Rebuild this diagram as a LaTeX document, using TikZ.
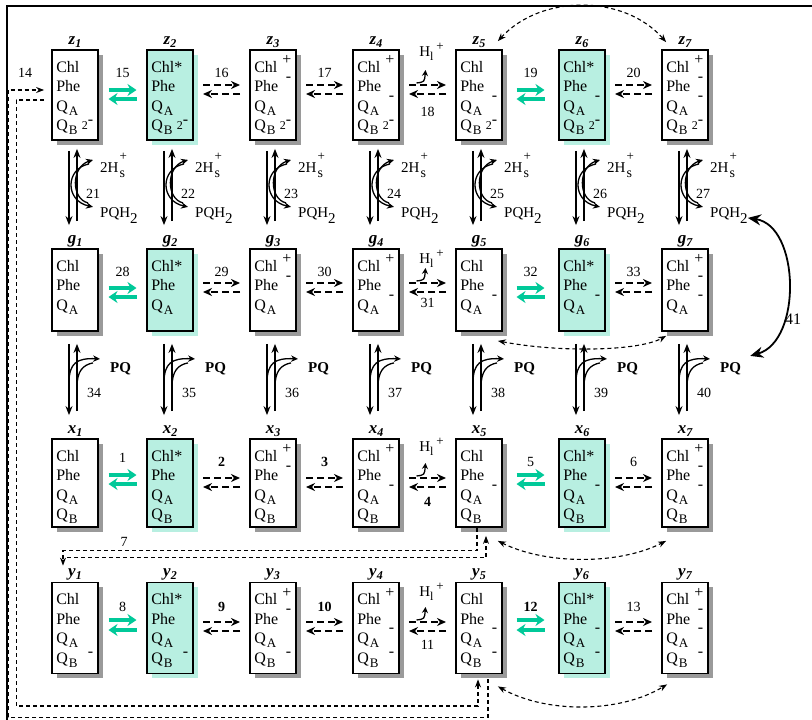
\documentclass[tikz,border=0pt]{standalone}
\usepackage{fontspec}
\setmainfont{Liberation Serif}
\usepackage{tikz}
\usetikzlibrary{arrows.meta,calc,shadows}
\definecolor{cExc}{HTML}{00C999}
\definecolor{cExcFill}{HTML}{B8EFE1}
\definecolor{cShade}{HTML}{9A9A9A}
\tikzset{
  pbox/.style={draw, line width=1.8pt, minimum width=46pt, inner sep=0pt},
  ground/.style={pbox, fill=white,
                 drop shadow={shadow xshift=4.5pt, shadow yshift=-4.5pt, opacity=1, fill=cShade}},
  excited/.style={pbox, fill=cExcFill,
                 drop shadow={shadow xshift=4.5pt, shadow yshift=-4.5pt, opacity=1, fill=cExcFill}},
  rowz/.style={minimum height=90pt},
  rowg/.style={minimum height=82pt},
  rowx/.style={minimum height=88pt},
  rowy/.style={minimum height=91pt},
  boxtxt/.style={anchor=north west, inner sep=0pt, text width=37pt, align=left,
                 font=\fontsize{16}{19.5}\selectfont},
  boxlbl/.style={anchor=base, inner sep=0pt, font=\fontsize{17}{17}\selectfont\bfseries\itshape},
  num/.style={inner sep=0pt, font=\fontsize{14}{14}\selectfont},
  numb/.style={num, font=\fontsize{14}{14}\selectfont\bfseries},
  chem/.style={anchor=base west, inner sep=0pt, font=\fontsize{15}{15}\selectfont},
  eqar/.style={-{Stealth[length=9pt,width=12pt]}, line width=3.5pt, cExc},
  dar/.style={-{Stealth[length=9pt,width=8pt]}, line width=2pt, dash pattern=on 7pt off 4pt},
  var/.style={-{Stealth[length=9pt,width=7pt]}, line width=1.4pt},
  car/.style={-{Stealth[length=7pt,width=6.5pt]}, line width=1.3pt},
  loopd/.style={line width=1.1pt, dash pattern=on 4pt off 3pt},
  ltip/.style={-{Stealth[length=8pt,width=6pt]}},
  bigar/.style={{Stealth[length=13pt,width=11pt]}-{Stealth[length=13pt,width=11pt]}, line width=1.8pt},
}
\newcommand{\QA}{Q\kern1pt\raisebox{-4pt}{\fontsize{13}{13}\selectfont A}}
\newcommand{\QB}{Q\kern1pt\raisebox{-4pt}{\fontsize{13}{13}\selectfont B}}
\newcommand{\cpos}{\hfill\smash{\raisebox{7.5pt}{+}}}
\newcommand{\cneg}[1]{\hfill\smash{\raisebox{#1}{-}}}
\newcommand{\qbtwo}{\hfill\raisebox{1pt}{\fontsize{12}{12}\selectfont 2}\smash{\raisebox{6pt}{-}}}
\newcommand{\sub}[2]{#1\raisebox{-3pt}{\fontsize{12}{12}\selectfont #2}}
\newcommand{\Hs}{2H\kern1pt\rlap{\raisebox{-5pt}{\fontsize{14}{14}\selectfont s}}\raisebox{12pt}{\fontsize{13}{13}\selectfont +}}
\newcommand{\Hl}{H\raisebox{-4pt}{\fontsize{12}{12}\selectfont l}\kern3pt\raisebox{6.5pt}{\fontsize{13}{13}\selectfont +}}
\newcommand{\PQH}{PQH\raisebox{-6pt}{2}}

% box with its text and its name above
\newcommand{\pstate}[6]{%
  \node[#2, #3] (#1) at (#4) {};
  \node[boxtxt] (#1t) at ([shift={(5,12)}]#1.north west) {#6};
  \node[boxlbl] (#1l) at ([shift={(0,-5)}]#1.north) {#5};
}
% light step: two teal arrows
\newcommand{\lightpair}[7]{%
  \draw[eqar] ($(#1.east)!.5!(#2.west)+(-14,#3)$) -- ($(#1.east)!.5!(#2.west)+(14,#3)$);
  \draw[eqar] ($(#1.east)!.5!(#2.west)+(14,#4)$) -- ($(#1.east)!.5!(#2.west)+(-14,#4)$);
  \node[#7] (n#5) at ($(#1.east)!.5!(#2.west)+(0,#6)$) {#5};
}
% dark step: two dashed arrows
\newcommand{\darkpair}[7]{%
  \draw[dar] ($(#1.east)!.5!(#2.west)+(-18.5,#3)$) -- ($(#1.east)!.5!(#2.west)+(18.5,#3)$);
  \draw[dar] ($(#1.east)!.5!(#2.west)+(18.5,#4)$) -- ($(#1.east)!.5!(#2.west)+(-18.5,#4)$);
  \node[#7] (n#5) at ($(#1.east)!.5!(#2.west)+(0,#6)$) {#5};
}
% proton on the Chl+ reduction
\newcommand{\hlpart}[5]{%
  \node[chem, anchor=center] (hl#5) at ($(#1.east)!.5!(#2.west)+(4,#4)$) {\Hl};
  \draw[car, -{Stealth[length=6pt,width=6pt]}] ($(#1.east)!.5!(#2.west)+(-11,#3-2)$)
    .. controls ($(#1.east)!.5!(#2.west)+(-3,#3-3)$) .. ($(#1.east)!.5!(#2.west)+(-2,#3-15)$);
}
% Q_B site: 2H_s^+ in, PQH_2 out
\newcommand{\qblink}[3]{%
  \draw[var] ([shift={(-6,10)}]#1.south) -- ([shift={(-6,-23)}]#2.north);
  \draw[var] ([shift={(2,-27)}]#2.north) -- ([shift={(2,8)}]#1.south);
  \node[chem] (h#3) at ([shift={(25,32)}]#1.south) {\Hs};
  \node[chem] (q#3) at ([shift={(25,77)}]#1.south) {\PQH};
  \node[num] (n#3) at ([shift={(18,53)}]#1.south) {#3};
  \draw[car] ([shift={(-11,-9)}]h#3.base west) .. controls ([shift={(-35,-4)}]h#3.base west)
    and ([shift={(-35,-17)}]q#3.base west) .. ([shift={(-7,-11)}]q#3.base west);
  \draw[car] ([shift={(-12,-15)}]q#3.base west) .. controls ([shift={(-29,-19)}]q#3.base west)
    and ([shift={(-29,-6)}]h#3.base west) .. ([shift={(-7,-13)}]h#3.base west);
}
% Q_B site: PQ binding
\newcommand{\pqlink}[3]{%
  \draw[var] ([shift={(-6,12)}]#1.south) -- ([shift={(-6,-23)}]#2.north);
  \draw[var] ([shift={(2,-27)}]#2.north) -- ([shift={(2,12)}]#1.south);
  \node[chem, font=\fontsize{15}{15}\selectfont\bfseries] (pq#3) at ([shift={(35,41)}]#1.south) {PQ};
  \node[num] (n#3) at ([shift={(19,61)}]#1.south) {#3};
  \draw[car] ([shift={(-6,51)}]#1.south) .. controls ([shift={(-6,31)}]#1.south)
    and ([shift={(2,26)}]#1.south) .. ([shift={(-10,-14)}]pq#3.base west);
  \draw[line width=1.3pt] ([shift={(2,55)}]#1.south) .. controls ([shift={(2,39)}]#1.south)
    and ([shift={(8,33)}]#1.south) .. ([shift={(-17,-10)}]pq#3.base west);
}

\begin{document}
\begin{tikzpicture}[x=1pt, y=-1pt]
  \useasboundingbox (0,0) rectangle (812,720);
  \draw[line width=2.6pt] (7,6) rectangle (840,750);

  % --- row z ---
  \pstate{z1}{ground}{rowz}{75,95}{\sub{z}{1}}{Chl\\Phe\\\QA\\\QB\qbtwo}
  \pstate{z2}{excited}{rowz}{170,95}{\sub{z}{2}}{Chl*\\Phe\\\QA\\\QB\qbtwo}
  \pstate{z3}{ground}{rowz}{273,95}{\sub{z}{3}}{Chl\cpos\\Phe\cneg{10.5pt}\\\QA\\\QB\qbtwo}
  \pstate{z4}{ground}{rowz}{376,95}{\sub{z}{4}}{Chl\cpos\\Phe\\\QA\cneg{11pt}\\\QB\qbtwo}
  \pstate{z5}{ground}{rowz}{479,95}{\sub{z}{5}}{Chl\\Phe\\\QA\cneg{11pt}\\\QB\qbtwo}
  \pstate{z6}{excited}{rowz}{582,95}{\sub{z}{6}}{Chl*\\Phe\\\QA\cneg{11pt}\\\QB\qbtwo}
  \pstate{z7}{ground}{rowz}{685,95}{\sub{z}{7}}{Chl\cpos\\Phe\cneg{10.5pt}\\\QA\cneg{11pt}\\\QB\qbtwo}

  % --- row g ---
  \pstate{g1}{ground}{rowg}{75,290}{\sub{g}{1}}{Chl\\Phe\\\QA}
  \pstate{g2}{excited}{rowg}{170,290}{\sub{g}{2}}{Chl*\\Phe\\\QA}
  \pstate{g3}{ground}{rowg}{273,290}{\sub{g}{3}}{Chl\cpos\\Phe\cneg{10.5pt}\\\QA}
  \pstate{g4}{ground}{rowg}{376,290}{\sub{g}{4}}{Chl\cpos\\Phe\\\QA\cneg{11pt}}
  \pstate{g5}{ground}{rowg}{479,290}{\sub{g}{5}}{Chl\\Phe\\\QA\cneg{11pt}}
  \pstate{g6}{excited}{rowg}{582,290}{\sub{g}{6}}{Chl*\\Phe\\\QA\cneg{11pt}}
  \pstate{g7}{ground}{rowg}{685,290}{\sub{g}{7}}{Chl\cpos\\Phe\cneg{10.5pt}\\\QA\cneg{11pt}}

  % --- row x ---
  \pstate{x1}{ground}{rowx}{75,483}{\sub{x}{1}}{Chl\\Phe\\\QA\\\QB}
  \pstate{x2}{excited}{rowx}{170,483}{\sub{x}{2}}{Chl*\\Phe\\\QA\\\QB}
  \pstate{x3}{ground}{rowx}{273,483}{\sub{x}{3}}{Chl\cpos\\Phe\cneg{10.5pt}\\\QA\\\QB}
  \pstate{x4}{ground}{rowx}{376,483}{\sub{x}{4}}{Chl\cpos\\Phe\\\QA\cneg{11pt}\\\QB}
  \pstate{x5}{ground}{rowx}{479,483}{\sub{x}{5}}{Chl\\Phe\\\QA\cneg{11pt}\\\QB}
  \pstate{x6}{excited}{rowx}{582,483}{\sub{x}{6}}{Chl*\\Phe\\\QA\cneg{11pt}\\\QB}
  \pstate{x7}{ground}{rowx}{685,483}{\sub{x}{7}}{Chl\cpos\\Phe\cneg{10.5pt}\\\QA\cneg{11pt}\\\QB}

  % --- row y ---
  \pstate{y1}{ground}{rowy}{75,628}{\sub{y}{1}}{Chl\\Phe\\\QA\\\QB\cneg{7pt}}
  \pstate{y2}{excited}{rowy}{170,628}{\sub{y}{2}}{Chl*\\Phe\\\QA\\\QB\cneg{7pt}}
  \pstate{y3}{ground}{rowy}{273,628}{\sub{y}{3}}{Chl\cpos\\Phe\cneg{10.5pt}\\\QA\\\QB\cneg{7pt}}
  \pstate{y4}{ground}{rowy}{376,628}{\sub{y}{4}}{Chl\cpos\\Phe\\\QA\cneg{11pt}\\\QB\cneg{7pt}}
  \pstate{y5}{ground}{rowy}{479,628}{\sub{y}{5}}{Chl\\Phe\\\QA\cneg{11pt}\\\QB\cneg{7pt}}
  \pstate{y6}{excited}{rowy}{582,628}{\sub{y}{6}}{Chl*\\Phe\\\QA\cneg{11pt}\\\QB\cneg{7pt}}
  \pstate{y7}{ground}{rowy}{685,628}{\sub{y}{7}}{Chl\cpos\\Phe\cneg{10.5pt}\\\QA\cneg{11pt}\\\QB\cneg{7pt}}

  % --- steps along the rows ---
  \lightpair{z1}{z2}{-5}{4}{15}{-22}{num}
  \darkpair{z2}{z3}{-10}{-1}{16}{-22}{num}
  \darkpair{z3}{z4}{-10}{-1}{17}{-22}{num}
  \darkpair{z4}{z5}{-10}{-1}{18}{17}{num}
  \hlpart{z4}{z5}{-10}{-43}{z}
  \lightpair{z5}{z6}{-5}{4}{19}{-22}{num}
  \darkpair{z6}{z7}{-10}{-1}{20}{-22}{num}

  \lightpair{g1}{g2}{-2}{7}{28}{-18}{num}
  \darkpair{g2}{g3}{-7}{2}{29}{-18}{num}
  \darkpair{g3}{g4}{-7}{2}{30}{-18}{num}
  \darkpair{g4}{g5}{-7}{2}{31}{13}{num}
  \hlpart{g4}{g5}{-7}{-31}{g}
  \lightpair{g5}{g6}{-2}{7}{32}{-18}{num}
  \darkpair{g6}{g7}{-7}{2}{33}{-18}{num}

  \lightpair{x1}{x2}{-8}{1}{1}{-25}{num}
  \darkpair{x2}{x3}{-5}{4}{2}{-21}{numb}
  \darkpair{x3}{x4}{-5}{4}{3}{-21}{numb}
  \darkpair{x4}{x5}{-5}{4}{4}{19}{numb}
  \hlpart{x4}{x5}{-5}{-36}{x}
  \lightpair{x5}{x6}{-8}{1}{5}{-21}{num}
  \darkpair{x6}{x7}{-5}{4}{6}{-21}{num}

  \lightpair{y1}{y2}{-8}{2}{8}{-21}{num}
  \darkpair{y2}{y3}{-6}{3}{9}{-21}{numb}
  \darkpair{y3}{y4}{-6}{3}{10}{-21}{numb}
  \darkpair{y4}{y5}{-6}{3}{11}{17}{num}
  \hlpart{y4}{y5}{-6}{-36}{y}
  \lightpair{y5}{y6}{-8}{2}{12}{-21}{numb}
  \darkpair{y6}{y7}{-6}{3}{13}{-21}{num}

  % --- Q_B site exchange ---
  \qblink{z1}{g1}{21}
  \qblink{z2}{g2}{22}
  \qblink{z3}{g3}{23}
  \qblink{z4}{g4}{24}
  \qblink{z5}{g5}{25}
  \qblink{z6}{g6}{26}
  \qblink{z7}{g7}{27}
  \pqlink{g1}{x1}{34}
  \pqlink{g2}{x2}{35}
  \pqlink{g3}{x3}{36}
  \pqlink{g4}{x4}{37}
  \pqlink{g5}{x5}{38}
  \pqlink{g6}{x6}{39}
  \pqlink{g7}{x7}{40}
  \draw[bigar] (q27.base east) .. controls ([shift={(52,8)}]q27.base east)
    and ([shift={(61,-32)}]pq40.base east) .. ([shift={(9,-17)}]pq40.base east);
  \node[num, font=\fontsize{16}{16}\selectfont] (n41) at ([shift={(52,-54)}]pq40.base east) {41};

  % --- recombination paths ---
  \draw[loopd, <->, >={Stealth[length=8pt,width=6pt]}] ([shift={(-5,-8)}]z5.north east)
    .. controls ([shift={(38,-55)}]z5.north east) and ([shift={(-37,-55)}]z7.north west)
    .. ([shift={(5,-7)}]z7.north west);
  \draw[loopd, <->, >={Stealth[length=8pt,width=6pt]}] ([shift={(-5,9)}]g5.south east)
    .. controls ([shift={(58,21)}]g5.south east) and ([shift={(-22,19)}]g7.south west)
    .. ([shift={(5,4)}]g7.south west);
  \draw[loopd, <->, >={Stealth[length=8pt,width=6pt]}] ([shift={(-5,13)}]x5.south east)
    .. controls ([shift={(43,37)}]x5.south east) and ([shift={(-42,37)}]x7.south west)
    .. ([shift={(5,13)}]x7.south west);
  \draw[loopd, <->, >={Stealth[length=8pt,width=6pt]}] ([shift={(-5,12)}]y5.south east)
    .. controls ([shift={(43,39)}]y5.south east) and ([shift={(-42,39)}]y7.south west)
    .. ([shift={(6,10)}]y7.south west);

  \draw[loopd, ltip] ([shift={(-2,0)}]x5.south) -- ++(0,23) -| ([shift={(-12,-16)}]y1.north);
  \draw[loopd, ltip] ([shift={(-8,-24)}]y1.north) -| ([shift={(7,8)}]x5.south);
  \node[num] (n7) at ([shift={(49,-40)}]y1.north) {7};

  \draw[loopd, ltip] ([shift={(9,5)}]y5.south) -- ++(0,38) -- ++(-480,0) |- ([shift={(-7,-5)}]z1.west);
  \draw[loopd, ltip] ([shift={(-7,5)}]z1.west) -- ++(-28,0) -- ++(0,606) -| ([shift={(-1,5)}]y5.south);
  \node[num] (n14) at ([shift={(-26,-22)}]z1.west) {14};
\end{tikzpicture}
\end{document}
